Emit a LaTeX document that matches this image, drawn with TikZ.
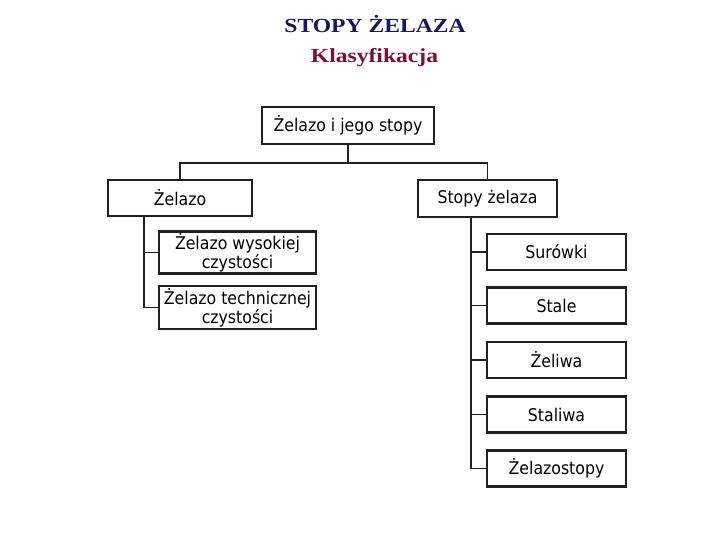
\documentclass[tikz,border=0pt]{standalone}
\usepackage{fontspec}
\setmainfont{DejaVu Sans Condensed}
\newfontfamily\titlefont[FakeStretch=1.18]{Liberation Serif}
\usetikzlibrary{positioning}
\definecolor{titleNavy}{RGB}{24,22,92}
\definecolor{titleMaroon}{RGB}{122,18,48}
\definecolor{lineInk}{RGB}{32,32,32}

\begin{document}
\begin{tikzpicture}[x=1pt,y=-1pt,
        box/.style={draw=lineInk,line width=2.2pt,inner sep=1pt,minimum height=36pt,
                    font=\fontsize{17.5}{19}\selectfont,align=center},
        link/.style={draw=lineInk,line width=1.7pt},
        head/.style={font=\titlefont\bfseries\fontsize{20}{24}\selectfont,anchor=base}]
        \useasboundingbox[fill=white] (0,0) rectangle (720,540);
        % title
        \node[head,text=titleNavy] (title) at (375,33) {STOPY ŻELAZA};
        \node[head,text=titleMaroon] (subtitle) at (374.5,63) {Klasyfikacja};
        % boxes
        \node[box,minimum width=172pt,minimum height=37pt] (root) at (348,125.5) {Żelazo i jego stopy};
        \node[box,minimum width=144pt] (iron) at (180,198) {Żelazo};
        \node[box,minimum width=139pt,minimum height=37pt] (alloys) at (487.5,198.5) {Stopy żelaza};
        \node[box,minimum width=157pt,minimum height=42pt] (pureHigh) at (237.5,252.5) {Żelazo wysokiej\\czystości};
        \node[box,minimum width=157pt,minimum height=43pt] (pureTech) at (237.5,307.5) {Żelazo technicznej\\czystości};
        \foreach \n/\t/\y in {surowki/Surówki/252,stale/Stale/305.5,zeliwa/Żeliwa/360,
                              staliwa/Staliwa/414.5,zelazostopy/Żelazostopy/468.5}
          \node[box,minimum width=139pt] (\n) at (556.5,\y) {\t};
        % connectors
        \coordinate (bus) at (348,163);
        \coordinate (leftTrunk) at (144,216);
        \coordinate (rightTrunk) at (471,217);
        \draw[link] (root.south) -- (bus);
        \draw[link] (iron.north) |- (bus) -| (alloys.north);
        \draw[link] (leftTrunk) |- (pureTech.west);
        \draw[link] (pureHigh.west) -- (pureHigh.west -| leftTrunk);
        \draw[link] (rightTrunk) |- (zelazostopy.west);
        \foreach \n in {surowki,stale,zeliwa,staliwa}
          \draw[link] (\n.west) -- (\n.west -| rightTrunk);
\end{tikzpicture}
\end{document}
